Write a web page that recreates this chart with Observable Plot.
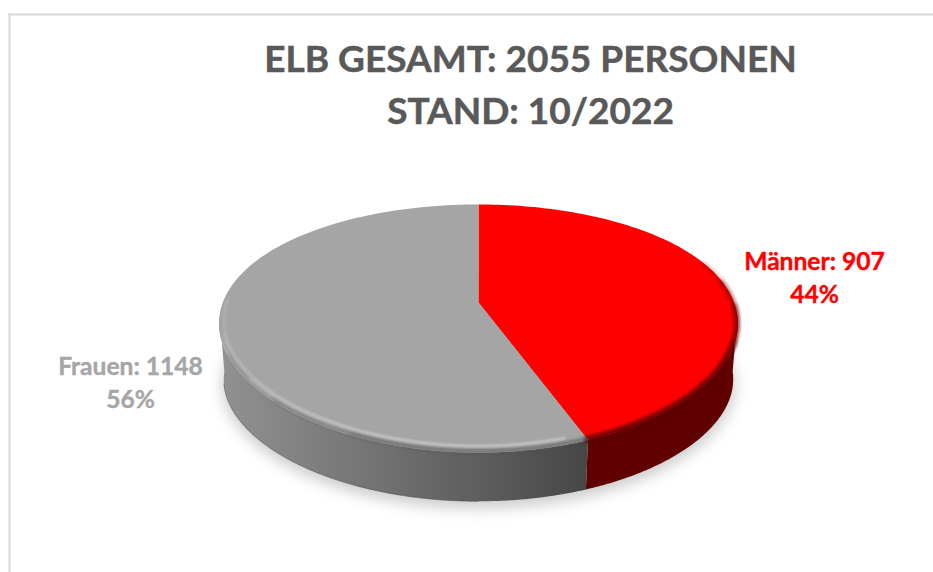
<!DOCTYPE html>
<html>
<head>
<meta charset="utf-8">
<script src="https://cdn.jsdelivr.net/npm/d3@7"></script>
<script src="https://cdn.jsdelivr.net/npm/@observablehq/plot@0.6"></script>
<style>
  html, body { margin: 0; padding: 0; background: #fff; }
  .soft-shadow { filter: blur(7px); }
  .soft-rim { filter: blur(1.6px); }
  .soft-glint { filter: blur(1.3px); }
</style>
</head>
<body>
<div id="chart"></div>
<script>
const categories = ["Männer", "Frauen"];
const values = [907, 1148];
const colors = ["#ff0000", "#a5a5a5"];
const labelColors = ["#ff0000", "#a6a6a6"];
const titleLines = ["ELB GESAMT: 2055 PERSONEN", "STAND: 10/2022"];

const total = d3.sum(values);
const arcs = d3.pie().sort(null)(values);
const boundary = arcs[0].endAngle;

const FONT = "Lato, 'Open Sans', sans-serif";
const top3d = {cx: 478, cy: 302, rx: 255.7, ry: 118.6, kx: 0.17, ky: 0.21};
const bot3d = {cx: 478, cy: 359, rx: 251, ry: 112, kx: 0.17, ky: 0.21};

function project(g, t, rho = 1) {
  const u = rho * Math.sin(t), v = -rho * Math.cos(t);
  return {x: g.cx + g.rx * u / (1 - g.kx * v), y: g.cy + g.ry * v / (1 - g.ky * v)};
}
function arc(g, a0, a1, rho = 1, n = 120) {
  return d3.range(n + 1).map(i => {
    const f = i / n;
    const r = typeof rho === "function" ? rho(f) : rho;
    return project(g, a0 + (a1 - a0) * f, r);
  });
}
const deg = d => d * Math.PI / 180;

const faces = arcs.flatMap((a, i) => [
  {x: top3d.cx, y: top3d.cy, cat: categories[i]},
  ...arc(top3d, a.startAngle, a.endAngle).map(p => ({...p, cat: categories[i]}))
]);

const sideRed = [...arc(top3d, deg(96), boundary), ...arc(bot3d, boundary, deg(96))];
const sideGray = [...arc(top3d, boundary, deg(264)), ...arc(bot3d, deg(264), boundary)];
const shadow = arc({...bot3d, cy: 364, rx: 253, ry: 114}, 0, 2 * Math.PI, 1, 200);

const labelRows = arcs.flatMap((a, i) => [
  {t: `${categories[i]}: ${values[i]}`, line: 0, i},
  {t: `${Math.round(values[i] / total * 100)}%`, line: 1, i}
]);
const labelAnchor = [{x: 814, y: 262}, {x: 130, y: 367}];

const gradient = () => {
  const ns = "http://www.w3.org/2000/svg";
  const defs = document.createElementNS(ns, "defs");
  const lg = document.createElementNS(ns, "linearGradient");
  lg.setAttribute("id", "sideGrad");
  lg.setAttribute("x1", "0"); lg.setAttribute("x2", "1");
  lg.setAttribute("y1", "0"); lg.setAttribute("y2", "0");
  [[0, "#929292"], [0.3, "#7c7c7c"], [0.75, "#5a5a5a"], [1, "#464646"]].forEach(([o, c]) => {
    const s = document.createElementNS(ns, "stop");
    s.setAttribute("offset", o); s.setAttribute("stop-color", c);
    lg.appendChild(s);
  });
  defs.appendChild(lg);
  return defs;
};

const redRim = [[70, 0.18], [80, 0.28], [92, 0.4], [108, 0.5]].map(([from, op]) =>
  Plot.line(arc(top3d, deg(from), boundary, 0.996), {x: "x", y: "y", stroke: "#600000", strokeWidth: 6, strokeOpacity: op, className: "soft-rim"}));
const grayRim = [[246, 0.2], [225, 0.3], [205, 0.35]].map(([to, op]) =>
  Plot.line(arc(top3d, boundary, deg(to), 0.992), {x: "x", y: "y", stroke: "#5a5a5a", strokeWidth: 3.5, strokeOpacity: op, className: "soft-rim"}));
const glint = [[272, 0.25], [255, 0.3], [235, 0.35]].map(([to, op]) =>
  Plot.line(arc(top3d, deg(to), boundary + deg(4), f => 0.985 - 0.02 * Math.min(1, f * 2)), {x: "x", y: "y", stroke: "#d6d6d6", strokeWidth: 2.4, strokeOpacity: op, className: "soft-glint"}));

const chart = Plot.plot({
  width: 933,
  height: 572,
  margin: 0,
  style: {background: "#fff", fontFamily: FONT},
  x: {domain: [0, 933], range: [0, 933], axis: null},
  y: {domain: [0, 572], range: [0, 572], axis: null},
  color: {domain: categories, range: colors},
  marks: [
    gradient,
    Plot.ruleX([9], {y1: 13, y2: 572, stroke: "#d9d9d9", strokeWidth: 2}),
    Plot.ruleY([14], {x1: 8, x2: 933, stroke: "#d9d9d9", strokeWidth: 2}),

    Plot.line(shadow, {x: "x", y: "y", fill: "#bdbdbd", stroke: "none", fillOpacity: 0.75, className: "soft-shadow"}),
    Plot.line(sideRed, {x: "x", y: "y", fill: "#600000", stroke: "none"}),
    Plot.line(sideGray, {x: "x", y: "y", fill: "url(#sideGrad)", stroke: "none"}),
    Plot.line(arc(bot3d, deg(180), deg(258)), {x: "x", y: "y", stroke: "#555", strokeWidth: 1, strokeOpacity: 0.6}),

    Plot.line(faces, {x: "x", y: "y", z: "cat", fill: "cat", stroke: "none"}),

    ...redRim,
    ...grayRim,
    ...glint,

    Plot.text(labelRows, {
      x: d => labelAnchor[d.i].x,
      y: d => labelAnchor[d.i].y + d.line * 33,
      text: "t",
      fill: d => labelColors[d.i],
      stroke: d => labelColors[d.i],
      strokeWidth: 0.4,
      fontSize: 24.6,
      fontWeight: 700,
      fontFamily: FONT,
      textAnchor: "middle"
    }),
    Plot.text(titleLines, {
      x: () => 530,
      y: (d, i) => 60 + i * 52,
      text: d => d,
      fill: "#595959",
      stroke: "#595959",
      strokeWidth: 0.5,
      fontSize: 37,
      fontWeight: 700,
      fontFamily: FONT,
      textAnchor: "middle"
    })
  ]
});
document.getElementById("chart").appendChild(chart);
</script>
</body>
</html>
